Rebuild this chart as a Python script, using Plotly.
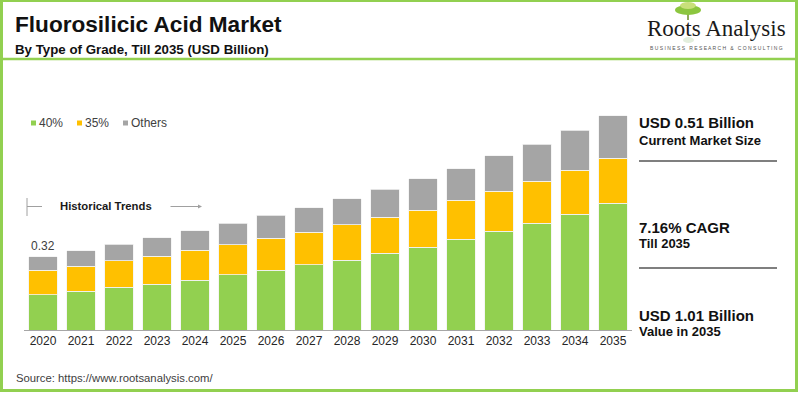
import plotly.graph_objects as go

# ---------------- data ----------------
years = [str(y) for y in range(2020, 2036)]
grade_40 = [0.166, 0.182, 0.201, 0.215, 0.235, 0.259, 0.281, 0.306,
            0.329, 0.360, 0.390, 0.426, 0.464, 0.501, 0.544, 0.595]
grade_35 = [0.115, 0.118, 0.124, 0.132, 0.140, 0.141, 0.150, 0.154,
            0.165, 0.169, 0.174, 0.183, 0.189, 0.199, 0.207, 0.212]
others = [0.064, 0.072, 0.078, 0.086, 0.091, 0.102, 0.108, 0.114,
          0.122, 0.133, 0.146, 0.150, 0.165, 0.174, 0.188, 0.199]
series_names = ["40%", "35%", "Others"]
series_colors = ["#92D050", "#FFC000", "#A5A5A5"]
first_label = "0.32"

title = "Fluorosilicic Acid Market"
subtitle = "By Type of Grade, Till 2035 (USD Billion)"
source = "Source: https://www.rootsanalysis.com/"
kpis = [("USD 0.51 Billion", "Current Market Size"),
        ("7.16% CAGR", "Till 2035"),
        ("USD 1.01 Billion", "Value in 2035")]

# ---------------- layout geometry ----------------
W, H = 800, 393
L, R, T, B = 24, 168, 60, 63
PW, PH = W - L - R, H - T - B
YMAX = 1.269


def px(x):
    return (x - L) / PW


def py(y):
    return (H - B - y) / PH


fig = go.Figure()
for name, vals, col in zip(series_names, [grade_40, grade_35, others], series_colors):
    fig.add_trace(go.Bar(x=years, y=vals, name=name,
                         marker=dict(color=col, line=dict(color="#F2F2F2", width=0.8)),
                         showlegend=False))

shapes = []
annos = []

# frame border and title separator
GREEN = "#92D050"
shapes.append(dict(type="rect", xref="paper", yref="paper", x0=px(1.5), x1=px(796.5), y0=py(0.5), y1=py(390.5),
                   line=dict(color=GREEN, width=3), layer="above"))
shapes.append(dict(type="line", xref="paper", yref="paper", x0=px(0), x1=px(797), y0=py(59), y1=py(59),
                   line=dict(color=GREEN, width=2.5)))

# title & subtitle
annos.append(dict(text="<b>" + title + "</b>", x=px(13), y=py(24), xref="paper", yref="paper",
                  xanchor="left", yanchor="middle", showarrow=False,
                  font=dict(family="Liberation Sans, Arial", size=22.6, color="#111111")))
annos.append(dict(text="<b>" + subtitle + "</b>", x=px(13), y=py(49), xref="paper", yref="paper",
                  xanchor="left", yanchor="middle", showarrow=False,
                  font=dict(family="Liberation Sans, Arial", size=13.3, color="#111111")))

# logo: tree + text
shapes.append(dict(type="line", xref="paper", yref="paper", x0=px(688), x1=px(688), y0=py(12), y1=py(20),
                   line=dict(color="#6B8E23", width=1.5)))
shapes.append(dict(type="circle", xref="paper", yref="paper", x0=px(675), x1=px(701), y0=py(5), y1=py(15),
                   fillcolor="#8CC63F", line=dict(width=0)))
shapes.append(dict(type="circle", xref="paper", yref="paper", x0=px(680), x1=px(696), y0=py(2), y1=py(9),
                   fillcolor="#C8E07A", line=dict(width=0)))
shapes.append(dict(type="circle", xref="paper", yref="paper", x0=px(683), x1=px(694), y0=py(37), y1=py(43),
                   fillcolor="#E3EEDD", line=dict(width=0)))
annos.append(dict(text="Roots Analysis", x=px(716), y=py(29), xref="paper", yref="paper",
                  xanchor="center", yanchor="middle", showarrow=False,
                  font=dict(family="Liberation Serif, Times New Roman", size=23, color="#1A1A1A")))
annos.append(dict(text="B U S I N E S S   R E S E A R C H   &amp;   C O N S U L T I N G", x=px(716), y=py(48),
                  xref="paper", yref="paper", xanchor="center", yanchor="middle", showarrow=False,
                  font=dict(family="Liberation Sans, Arial", size=5, color="#555555")))

# legend (custom small squares)
leg_x = [31, 77, 123]
for name, col, lx in zip(series_names, series_colors, leg_x):
    shapes.append(dict(type="rect", xref="paper", yref="paper", x0=px(lx), x1=px(lx + 5), y0=py(120.5), y1=py(125.5),
                       fillcolor=col, line=dict(width=0)))
    annos.append(dict(text=name, x=px(lx + 6), y=py(123), xref="paper", yref="paper",
                      xanchor="left", yanchor="middle", showarrow=False,
                      font=dict(family="Liberation Sans, Arial", size=12, color="#404040")))

# historical trends marker
shapes.append(dict(type="line", xref="paper", yref="paper", x0=px(27), x1=px(27), y0=py(198), y1=py(216),
                   line=dict(color="#A0A0A0", width=1)))
shapes.append(dict(type="line", xref="paper", yref="paper", x0=px(27), x1=px(42), y0=py(206.5), y1=py(206.5),
                   line=dict(color="#A0A0A0", width=1)))
annos.append(dict(text="<b>Historical Trends</b>", x=px(58), y=py(206), xref="paper", yref="paper",
                  xanchor="left", yanchor="middle", showarrow=False,
                  font=dict(family="Liberation Sans, Arial", size=11.3, color="#1A1A1A")))
annos.append(dict(text="", x=px(202), y=py(206.5), xref="paper", yref="paper", ax=-33, ay=0,
                  showarrow=True, arrowhead=2, arrowsize=0.8, arrowwidth=1, arrowcolor="#A0A0A0"))

# first bar value label (category index 0)
first_total = grade_40[0] + grade_35[0] + others[0]
annos.append(dict(text=first_label, x=0, y=first_total, xref="x", yref="y",
                  xanchor="center", yanchor="bottom", yshift=2, showarrow=False,
                  font=dict(family="Liberation Sans, Arial", size=12, color="#404040")))

# right KPI panel
kpi_y = [(123, 140), (227, 243), (315, 331)]
for (big, small), (y1, y2) in zip(kpis, kpi_y):
    annos.append(dict(text="<b>" + big + "</b>", x=px(637), y=py(y1), xref="paper", yref="paper",
                      xanchor="left", yanchor="middle", showarrow=False,
                      font=dict(family="Liberation Sans, Arial", size=15, color="#111111")))
    annos.append(dict(text="<b>" + small + "</b>", x=px(637), y=py(y2), xref="paper", yref="paper",
                      xanchor="left", yanchor="middle", showarrow=False,
                      font=dict(family="Liberation Sans, Arial", size=13, color="#111111")))
for ly in [161, 268]:
    shapes.append(dict(type="line", xref="paper", yref="paper", x0=px(639), x1=px(777), y0=py(ly), y1=py(ly),
                       line=dict(color="#7F7F7F", width=2)))

# source
annos.append(dict(text=source, x=px(14), y=py(378), xref="paper", yref="paper",
                  xanchor="left", yanchor="middle", showarrow=False,
                  font=dict(family="Liberation Sans, Arial", size=11.3, color="#404040")))

fig.update_layout(
    barmode="stack",
    bargap=0.255,
    width=W, height=H,
    margin=dict(l=L, r=R, t=T, b=B, pad=0),
    paper_bgcolor="white",
    plot_bgcolor="white",
    font=dict(family="Liberation Sans, Arial", color="#262626"),
    xaxis=dict(type="category", categoryorder="array", categoryarray=years, range=[-0.5, len(years) - 0.5],
               showline=True, linecolor="#A6A6A6", linewidth=1, ticks="",
               showgrid=False, tickfont=dict(size=12, color="#262626"), fixedrange=True),
    yaxis=dict(range=[0, YMAX], visible=False, showgrid=False, zeroline=False, fixedrange=True),
    shapes=shapes,
    annotations=annos,
)

fig.write_html("out.html", config={"displayModeBar": False},
               post_script="document.body.style.margin='0';")
